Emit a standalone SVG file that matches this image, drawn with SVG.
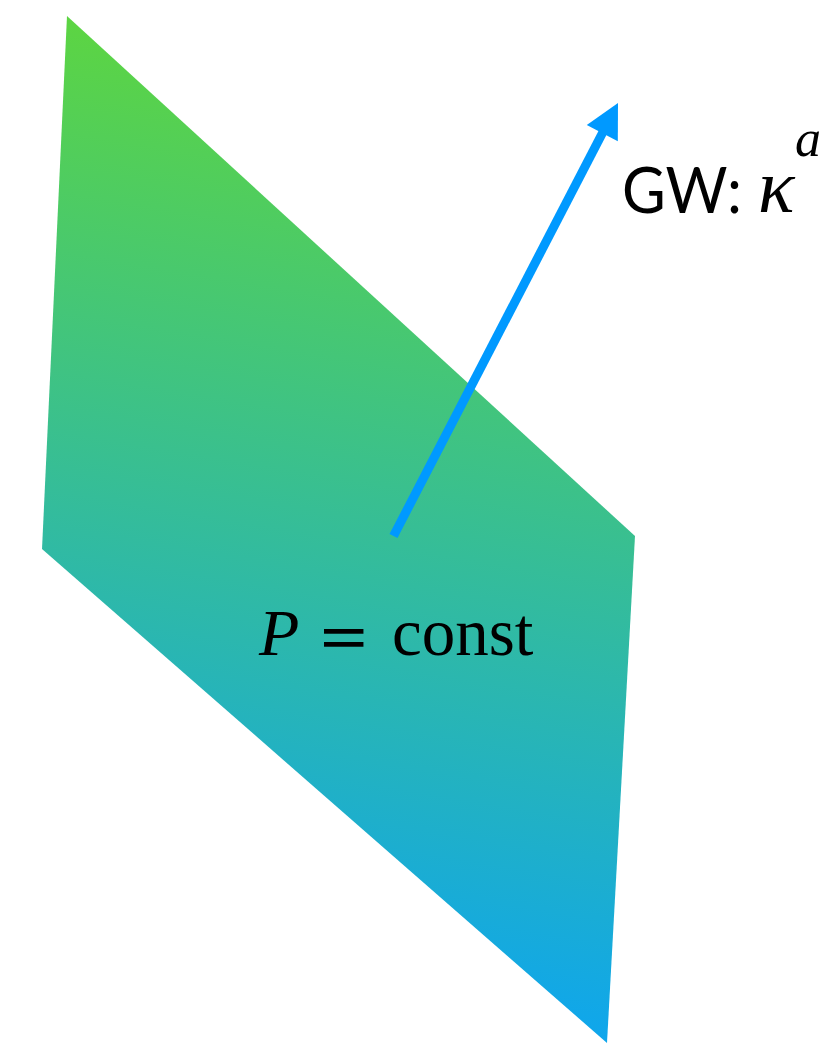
<svg xmlns="http://www.w3.org/2000/svg" width="829" height="1043" viewBox="0 0 829 1043">
<defs>
<linearGradient id="g" gradientUnits="userSpaceOnUse" x1="430" y1="10" x2="260" y2="1043">
<stop offset="0" stop-color="#62d836"/>
<stop offset="1" stop-color="#0aa3f7"/>
</linearGradient>
</defs>
<style>
.sans{font-family:Lato,"Open Sans",sans-serif;fill:#000}
.serif{font-family:"Liberation Serif","Times New Roman",serif;fill:#000}
.it{font-style:italic}
.arrow{stroke:#0099ff;stroke-width:9;fill:none}
.head{fill:#0099ff}
</style>
<g id="plane">
<polygon points="67,16 635,536 607,1043 42,549" fill="url(#g)"/>
</g>
<g id="connectors">
<line class="arrow" x1="393.5" y1="536" x2="604" y2="130"/>
<polygon class="head" points="618,103 617.8,141.3 586.8,125.1"/>
</g>
<g id="label-gw">
<text x="622" y="213" class="sans" font-size="64" textLength="120" lengthAdjust="spacingAndGlyphs">GW:</text>
<text x="758" y="212" class="serif it" font-size="76">κ</text>
<text x="795" y="156" class="serif it" font-size="52">a</text>
</g>
<g id="label-p">
<text x="259" y="655" class="serif it" font-size="66">P</text>
<text class="serif" font-size="66" stroke="#000" stroke-width="1.6" transform="translate(321,660) scale(1.22,1)">=</text>
<text x="392" y="655" class="serif" font-size="67">const</text>
</g>
</svg>
